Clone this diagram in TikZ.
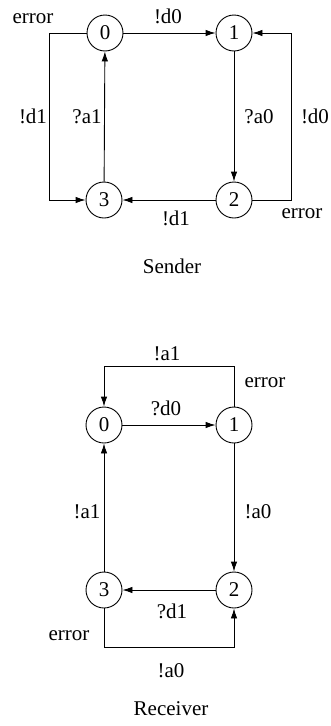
\documentclass[tikz,border=0pt]{standalone}
\usepackage{fontspec}
\setmainfont{Liberation Serif}
\usetikzlibrary{arrows.meta}
\begin{document}
\begin{tikzpicture}[x=1pt,y=-1pt,
  state/.style={circle,draw,line width=0.9pt,minimum size=36pt,inner sep=0pt,font=\fontsize{21}{24}\selectfont},
  lbl/.style={anchor=base,inner sep=0pt,font=\fontsize{21}{24}\selectfont},
  arr/.style={line width=0.9pt,-{Latex[length=10pt,width=6.5pt]}}]
\useasboundingbox (0,0) rectangle (330,726);
% Sender
\node[state] (s0) at (105,33) {0};
\node[state] (s1) at (234,33) {1};
\node[state] (s2) at (234,200) {2};
\node[state] (s3) at (104,200) {3};
\draw[arr] (s0) -- (s1);
\draw[arr] (s1) -- (s2);
\draw[arr] (s2) -- (s3);
\draw[arr] (s3) -- (s0);
\draw[arr] (s0.west) -- ++(-37,0) |- (s3.west);
\draw[arr] (s2.east) -- ++(39,0) |- (s1.east);
\node[lbl] (se1) at (33,23) {error};
\node[lbl] (sd0) at (168,23) {!d0};
\node[lbl] (sd1l) at (33,123) {!d1};
\node[lbl] (sa1) at (87,123) {?a1};
\node[lbl] (sa0) at (259,123) {?a0};
\node[lbl] (sd0r) at (315,123) {!d0};
\node[lbl] (se2) at (302,218) {error};
\node[lbl] (sd1b) at (176,225) {!d1};
\node[lbl] (sname) at (172,273) {Sender};
% Receiver
\node[state] (r0) at (104,425) {0};
\node[state] (r1) at (234,425) {1};
\node[state] (r2) at (234,590) {2};
\node[state] (r3) at (104,590) {3};
\draw[arr] (r0) -- (r1);
\draw[arr] (r1) -- (r2);
\draw[arr] (r2) -- (r3);
\draw[arr] (r3) -- (r0);
\draw[arr] (r1.north) -- ++(0,-40) -| (r0.north);
\draw[arr] (r3.south) -- ++(0,39) -| (r2.south);
\node[lbl] (ra1t) at (167,360) {!a1};
\node[lbl] (re1) at (265,387) {error};
\node[lbl] (rd0) at (166,415) {?d0};
\node[lbl] (ra1) at (87,518) {!a1};
\node[lbl] (ra0) at (258,518) {!a0};
\node[lbl] (rd1) at (172,618) {?d1};
\node[lbl] (re2) at (69,640) {error};
\node[lbl] (ra0b) at (171,677) {!a0};
\node[lbl] (rname) at (171,715) {Receiver};
\end{tikzpicture}
\end{document}
